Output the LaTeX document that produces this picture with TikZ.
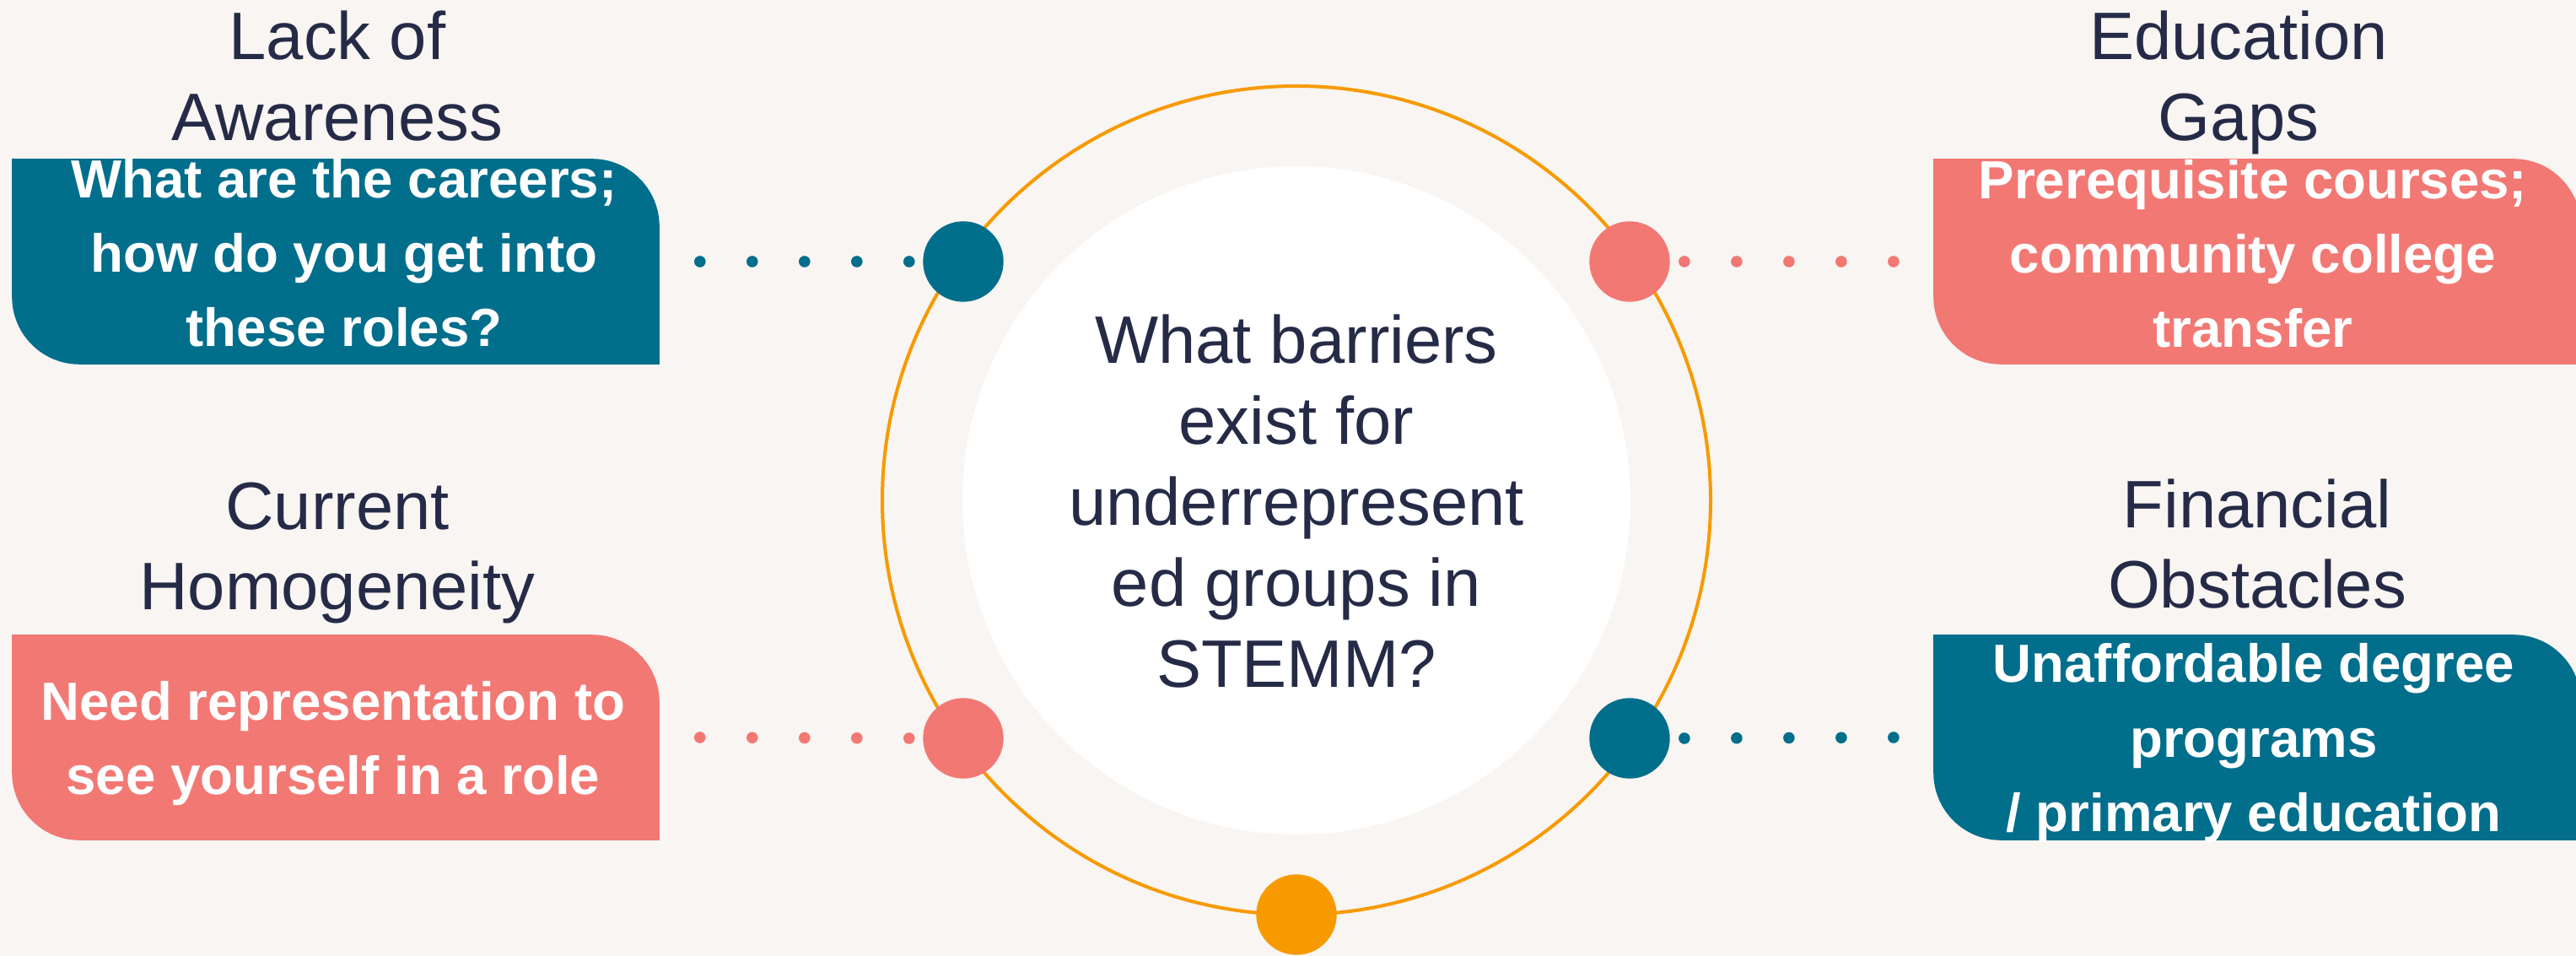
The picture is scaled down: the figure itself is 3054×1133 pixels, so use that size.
\documentclass[tikz,border=0pt]{standalone}
\usepackage{fontspec}
\setmainfont{Liberation Sans}
\definecolor{bgc}{HTML}{F8F5F2}
\definecolor{tealc}{HTML}{016E8C}
\definecolor{salmonc}{HTML}{F27874}
\definecolor{orangec}{HTML}{F79A00}
\definecolor{navyc}{HTML}{252B47}
\newcommand\bubblefill[2]{%
  \fill[#2,rounded corners=20pt] (#1.north west) rectangle (#1.south east);
  \fill[#2] (#1.north west) rectangle ([xshift=30pt,yshift=-30pt]#1.north west);
  \fill[#2] (#1.south east) rectangle ([xshift=-30pt,yshift=30pt]#1.south east);
}
\begin{document}
\begin{tikzpicture}[x=0.25pt,y=-0.25pt,
  frame/.style={rectangle,draw=none,fill=none,inner sep=0pt,minimum width=191.5pt,minimum height=60.5pt},
  bead/.style={circle,fill=#1,draw=none,inner sep=0pt,minimum size=23.85pt},
  dotline/.style={draw=#1,line width=3.4pt,line cap=round,dash pattern=on 0pt off 15.5pt},
  head/.style={align=center,text=navyc,inner sep=0pt,font=\fontsize{19.9pt}{24pt}\selectfont,anchor=base},
  boxtext/.style={align=center,text=white,inner sep=0pt,font=\fontsize{15.9pt}{22pt}\selectfont\bfseries,anchor=base},
  ctext/.style={align=center,text=navyc,inner sep=0pt,font=\fontsize{19.9pt}{24.06pt}\selectfont,anchor=base},
  ring/.style={draw=orangec,line width=1pt}]
\fill[bgc] (0,0) rectangle (3054,1133);
\useasboundingbox (0,0) rectangle (3054,1133);

% central ring and disk
\draw[ring] (1537,593) circle[radius=491];
\fill[white] (1537,593) circle[radius=396];

% boxes
\node[frame] (b1) at (398,310) {};
\node[frame] (b2) at (2676,310) {};
\node[frame] (b3) at (398,874) {};
\node[frame] (b4) at (2676,874) {};
\bubblefill{b1}{tealc}
\bubblefill{b2}{salmonc}
\bubblefill{b3}{salmonc}
\bubblefill{b4}{tealc}

% beads on ring
\node[bead=tealc] (c1) at (1142,310) {};
\node[bead=salmonc] (c2) at (1932,310) {};
\node[bead=salmonc] (c3) at (1142,875) {};
\node[bead=tealc] (c4) at (1932,875) {};
\node[bead=orangec] (c5) at (1537,1084) {};

% dotted connectors
\draw[dotline=tealc] ([xshift=12pt]b1.east) -- ([xshift=-3.6pt]c1.west);
\draw[dotline=salmonc] ([xshift=12pt]b3.east) -- ([xshift=-3.6pt]c3.west);
\draw[dotline=salmonc] ([xshift=4.1pt]c2.east) -- ([xshift=-11.4pt]b2.west);
\draw[dotline=tealc] ([xshift=4.1pt]c4.east) -- ([xshift=-11.4pt]b4.west);

% headings (anchored at the baseline of the last line)
\node[head] (h1) at (400,167) {Lack of\\Awareness};
\node[head] (h2) at (2654,167) {Education\\Gaps};
\node[head] (h3) at (400,723) {Current\\Homogeneity};
\node[head] (h4) at (2676,721) {Financial\\Obstacles};

% box texts
\node[boxtext] (t1) at (408,411) {What are the careers;\\how do you get into\\these roles?};
\node[boxtext] (t2) at (2671,412) {Prerequisite courses;\\community college\\transfer};
\node[boxtext] (t3) at (395,941) {Need representation to\\see yourself in a role};
\node[boxtext] (t4) at (2672,985) {Unaffordable degree\\programs\\/ primary education};

% centre question
\node[ctext] (q) at (1537,815) {What barriers\\exist for\\underrepresent\\ed groups in\\STEMM?};
\end{tikzpicture}
\end{document}
